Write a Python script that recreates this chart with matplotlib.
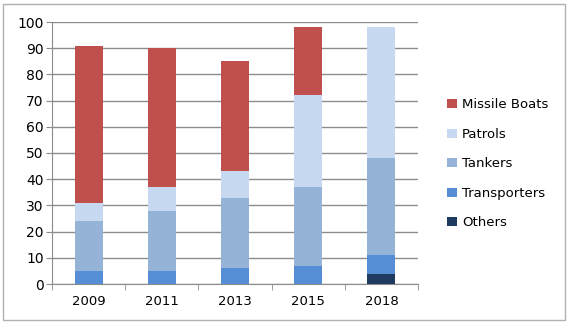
import matplotlib
matplotlib.use("Agg")
import matplotlib.pyplot as plt
import matplotlib.patches as mpatches
import numpy as np

# fleet composition by year
years = ["2009", "2011", "2013", "2015", "2018"]
others = [0, 0, 0, 0, 4]
transporters = [5, 5, 6, 7, 7]
tankers = [19, 23, 27, 30, 37]
patrols = [7, 9, 10, 35, 50]
missile_boats = [60, 53, 42, 26, 0]

series = [
    ("Others", others, "#1F3A60"),
    ("Transporters", transporters, "#558ED5"),
    ("Tankers", tankers, "#95B3D7"),
    ("Patrols", patrols, "#C6D9F1"),
    ("Missile Boats", missile_boats, "#C0504D"),
]

plt.rcParams['font.family'] = ['DejaVu Sans']

fig = plt.figure(figsize=(5.68, 3.25), dpi=100)
ax = fig.add_axes([52 / 568, 41 / 325, 366 / 568, 262 / 325])

x = np.arange(len(years))
bottom = np.zeros(len(years))
handles = []
for name, vals, color in series:
    vals = np.array(vals, dtype=float)
    b = ax.bar(x, vals, width=0.38, bottom=bottom, color=color, label=name,
               zorder=3, linewidth=0)
    bottom += vals
    handles.append(b)

ax.set_ylim(0, 100)
ax.set_xlim(-0.5, len(years) - 0.5)
ax.set_yticks(range(0, 101, 10))
ax.yaxis.grid(True, color="#8c8c8c", linewidth=1.0, zorder=0)
ax.set_xticks(x)
ax.set_xticklabels(years)
ax.set_xticks(np.arange(-0.5, len(years)), minor=True)
ax.tick_params(axis="x", which="major", length=0, labelsize=9.5, pad=8)
ax.tick_params(axis="x", which="minor", length=4, color="#8c8c8c")
ax.tick_params(axis="y", length=4, color="#8c8c8c", labelsize=10, pad=2)

for side in ["top", "right"]:
    ax.spines[side].set_visible(False)
ax.spines["left"].set_color("#8c8c8c")
ax.spines["bottom"].set_color("#8c8c8c")

leg = fig.legend(handles[::-1], [s[0] for s in series][::-1],
                 loc="upper left", bbox_to_anchor=(442 / 568, 1 - 93 / 325),
                 frameon=False, fontsize=9.5, handlelength=0.7,
                 handleheight=0.7, handletextpad=0.4, labelspacing=1.25,
                 borderaxespad=0)

# chart frame
fig.patches.append(mpatches.Rectangle((3 / 568, 5 / 325), 562 / 568, 316 / 325,
                                      transform=fig.transFigure, fill=False,
                                      edgecolor="#b0b0b0", linewidth=1.0))

fig.savefig("out.png", dpi=100)
